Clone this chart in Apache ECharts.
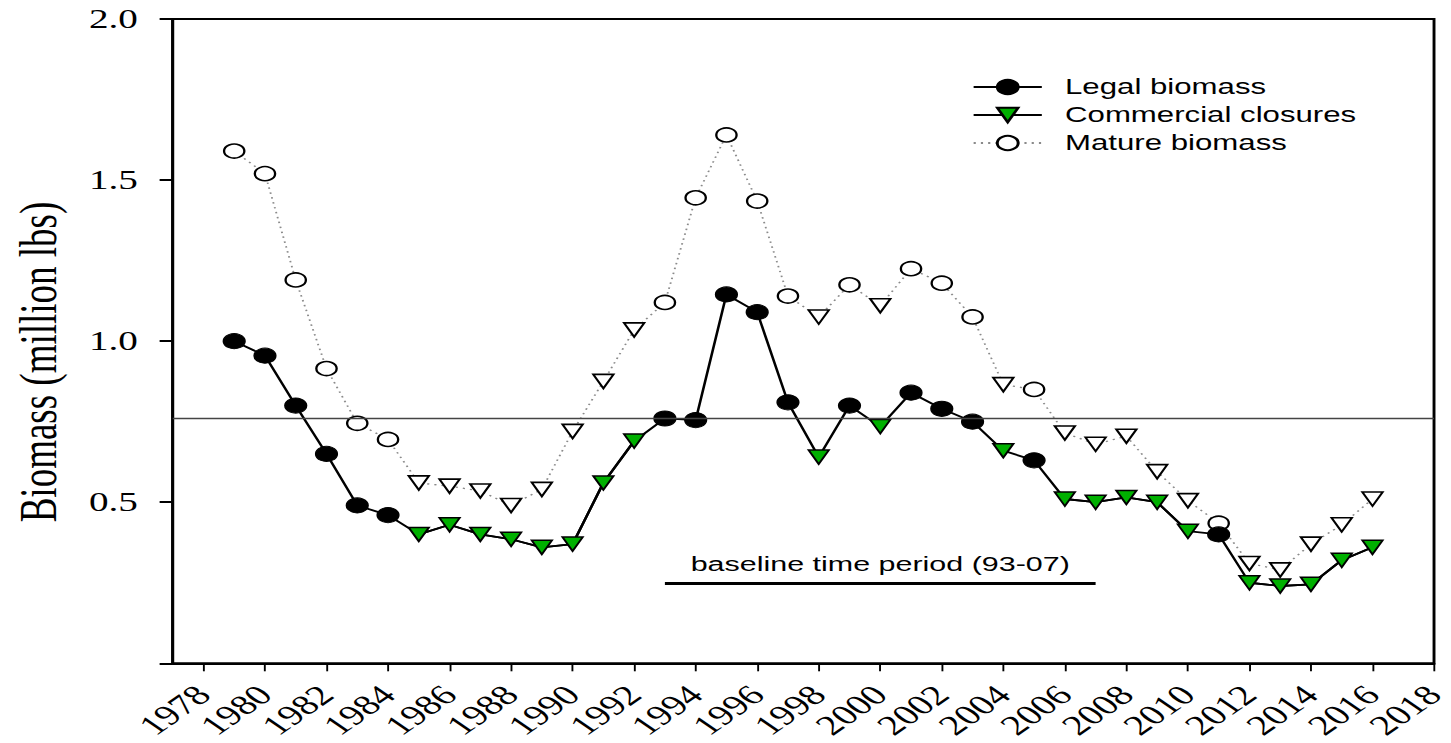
<!DOCTYPE html>
<html>
<head>
<meta charset="utf-8">
<script src="https://cdn.jsdelivr.net/npm/echarts@6/dist/echarts.min.js"></script>
<style>
html,body{margin:0;padding:0;background:#fff;overflow:hidden;width:1451px;height:743px;}
#chart{width:1000px;height:743px;transform:scaleX(1.451);transform-origin:0 0;}
</style>
</head>
<body>
<div id="chart"></div>
<script>
// ---- data ----
const years = [1979,1980,1981,1982,1983,1984,1985,1986,1987,1988,1989,1990,1991,1992,1993,1994,1995,1996,1997,1998,1999,2000,2001,2002,2003,2004,2005,2006,2007,2008,2009,2010,2011,2012,2013,2014,2015,2016];
const legalBiomass = [1.00,0.955,0.80,0.65,0.49,0.46,0.40,0.43,0.40,0.385,0.36,0.37,0.56,0.69,0.76,0.755,1.145,1.09,0.81,0.64,0.80,0.735,0.84,0.79,0.75,0.66,0.63,0.51,0.50,0.515,0.50,0.41,0.40,0.25,0.24,0.245,0.32,0.36];
const matureBiomass = [1.59,1.52,1.19,0.915,0.745,0.695,0.56,0.55,0.535,0.49,0.54,0.72,0.875,1.035,1.12,1.445,1.64,1.435,1.14,1.075,1.175,1.11,1.225,1.18,1.075,0.865,0.85,0.715,0.68,0.705,0.595,0.505,0.435,0.31,0.29,0.37,0.43,0.51];
const closureYears = [1985,1986,1987,1988,1989,1990,1991,1992,1998,2000,2004,2006,2007,2008,2009,2010,2012,2013,2014,2015,2016];
const threshold = 0.76;
const baselinePeriod = [1993, 2007];
const baselineLevel = 0.25;
const baselineLabel = 'baseline time period (93-07)';
const xTicks = [1978,1980,1982,1984,1986,1988,1990,1992,1994,1996,1998,2000,2002,2004,2006,2008,2010,2012,2014,2016,2018];
const yTicks = [0,0.5,1.0,1.5,2.0];
const yTickLabels = [0.5,1.0,1.5,2.0];
const seriesNames = ['Legal biomass','Commercial closures','Mature biomass'];
const yTitle = 'Biomass (million lbs)';

// ---- build ----
const isClosure = y => closureYears.indexOf(y) >= 0;
const legalData = years.map((y,i) => isClosure(y) ? {value:[y, legalBiomass[i]], symbol:'none'} : [y, legalBiomass[i]]);
const closureData = years.map((y,i) => isClosure(y) ? [y, legalBiomass[i]] : [y, '-']);
const matureData = years.map((y,i) => isClosure(y) ? {value:[y, matureBiomass[i]], symbol:'triangle', symbolRotate:180} : [y, matureBiomass[i]]);

const serif = 'Liberation Serif';
const sans = 'Liberation Sans';

const chart = echarts.init(document.getElementById('chart'), null, {renderer:'svg'});
chart.setOption({
  animation:false,
  backgroundColor:'#fff',
  grid:{left:119, right:11.7, top:19, bottom:79.7, show:true, borderColor:'#000', borderWidth:2, outerBoundsMode:'none'},
  legend:{
    orient:'vertical', left:665, top:71, itemWidth:47, itemHeight:18, itemGap:6,
    selectedMode:false, data:seriesNames,
    textStyle:{fontFamily:sans, fontSize:21.5, color:'#000', lineHeight:22, padding:[0,0,0,11]}
  },
  xAxis:{
    type:'value', min:1977, max:2018,
    axisLine:{onZero:false, lineStyle:{color:'#000', width:2}},
    axisTick:{show:true, customValues:xTicks, length:8, lineStyle:{color:'#000', width:1.3}},
    axisLabel:{customValues:xTicks, rotate:45, margin:27, fontFamily:serif, fontSize:28, color:'#000', formatter:v=>String(v)},
    splitLine:{show:false}
  },
  yAxis:{
    type:'value', min:0, max:2, interval:0.5,
    axisLine:{show:true, onZero:false, lineStyle:{color:'#000', width:2}},
    axisTick:{show:true, customValues:yTicks, inside:false, length:9, lineStyle:{color:'#000', width:2}},
    axisLabel:{customValues:yTickLabels, margin:24, fontFamily:serif, fontSize:27, color:'#000', formatter:v=>v.toFixed(1)},
    splitLine:{show:false}
  },
  graphic:[{
    type:'text', x:26, y:362, rotation:Math.PI/2,
    style:{text:yTitle, font:'37px "Liberation Serif"', fill:'#000', align:'center', verticalAlign:'middle'}
  }],
  series:[
    {
      name:'Mature biomass', type:'line', data:matureData, z:2,
      symbol:'circle', symbolSize:14,
      lineStyle:{color:'#8a8a8a', width:1.3, type:[1.5,3.5]},
      itemStyle:{color:'#fff', borderColor:'#000', borderWidth:1.6}
    },
    {
      name:'Legal biomass', type:'line', data:legalData, z:3,
      symbol:'circle', symbolSize:15,
      lineStyle:{color:'#000', width:1.8},
      itemStyle:{color:'#000', borderColor:'#000', borderWidth:1},
      markLine:{
        silent:true, symbol:'none', animation:false,
        data:[
          {yAxis:threshold, lineStyle:{color:'#444', width:1.3, type:'solid'}, label:{show:false}},
          [
            {coord:[baselinePeriod[0], baselineLevel], lineStyle:{color:'#000', width:3, type:'solid'},
             label:{show:true, position:'insideMiddleTop', distance:8, formatter:baselineLabel, fontFamily:sans, fontSize:21, color:'#000'}},
            {coord:[baselinePeriod[1], baselineLevel]}
          ]
        ]
      }
    },
    {
      name:'Commercial closures', type:'line', data:closureData, z:4,
      symbol:'triangle', symbolRotate:180, symbolSize:14,
      lineStyle:{color:'#000', width:1.8},
      itemStyle:{color:'#00b000', borderColor:'#000', borderWidth:1.5}
    }
  ]
});
</script>
</body>
</html>
